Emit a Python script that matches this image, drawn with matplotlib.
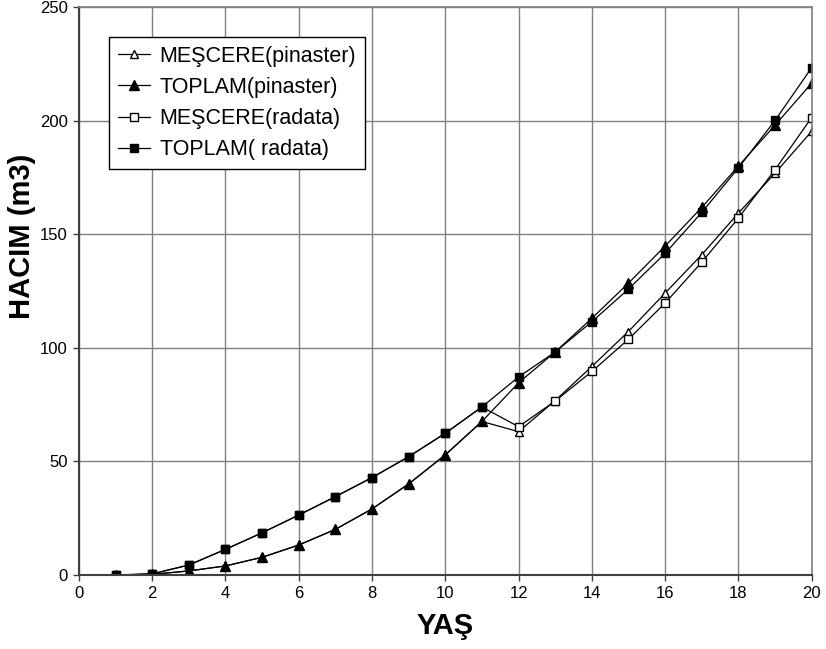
import matplotlib
matplotlib.use("Agg")
import matplotlib.pyplot as plt

plt.rcParams['font.family'] = ['Liberation Sans', 'DejaVu Sans']

ages = list(range(1, 21))
toplam_pinaster = [0, 0.3, 1.8, 4.0, 7.8, 13.2, 20.1, 29.1, 40.1, 52.9,
                   67.6, 84.6, 98.2, 113.0, 128.5, 144.8, 161.8, 180.0, 198.0, 216.5]
toplam_radiata = [0, 0.5, 4.4, 11.3, 18.6, 26.4, 34.5, 42.9, 52.1, 62.4,
                  74.0, 87.2, 98.2, 111.5, 125.9, 141.6, 159.6, 179.2, 200.1, 223.3]
mescere_pinaster = [0, 0.3, 1.8, 4.0, 7.8, 13.2, 20.1, 29.1, 40.1, 52.9,
                    67.6, 63.1, 76.8, 91.8, 107.2, 124.1, 141.0, 159.3, 176.9, 195.3]
mescere_radiata = [0, 0.5, 4.4, 11.3, 18.6, 26.4, 34.5, 42.9, 52.1, 62.4,
                   74.0, 65.3, 76.6, 89.6, 103.8, 119.7, 137.7, 157.1, 178.4, 201.4]
labels = ['MEŞCERE(pinaster)', 'TOPLAM(pinaster)', 'MEŞCERE(radata)', 'TOPLAM( radata)']

fig = plt.figure(figsize=(8.26, 6.49), dpi=100)
ax = fig.add_axes([0.0956, 0.114, 0.887, 0.875])

lw = 0.9
ax.plot(ages, mescere_pinaster, color='black', lw=lw, marker='^', ms=6,
        mfc='white', mec='black', mew=1, label=labels[0])
ax.plot(ages, toplam_pinaster, color='black', lw=lw, marker='^', ms=7,
        mfc='black', mec='black', label=labels[1])
ax.plot(ages, mescere_radiata, color='black', lw=lw, marker='s', ms=5.5,
        mfc='white', mec='black', mew=1, label=labels[2])
ax.plot(ages, toplam_radiata, color='black', lw=lw, marker='s', ms=6,
        mfc='black', mec='black', label=labels[3])

ax.set_xlim(0, 20)
ax.set_ylim(0, 250)
ax.set_xticks(range(0, 21, 2))
ax.set_yticks(range(0, 251, 50))
ax.grid(True, color='#808080', lw=1)
ax.set_axisbelow(True)
for s in ['top', 'right']:
    ax.spines[s].set_color('#808080')
    ax.spines[s].set_linewidth(1.2)
for s in ['left', 'bottom']:
    ax.spines[s].set_color('#404040')
    ax.spines[s].set_linewidth(1.5)
ax.tick_params(axis='both', direction='out', length=4, width=1, color='#404040',
               labelsize=12, pad=4)

ax.set_xlabel('YAŞ', fontsize=21, fontweight='bold', labelpad=8)
ax.set_ylabel('HACIM (m3)', fontsize=21, fontweight='bold')
ax.yaxis.set_label_coords(-0.058, 0.597)

leg = ax.legend(loc='upper left', bbox_to_anchor=(0.041, 0.947),
                prop={'size': 15.5},
                frameon=True, fancybox=False, edgecolor='black', framealpha=1,
                handlelength=1.5, borderpad=0.4, labelspacing=0.47,
                handletextpad=0.45, borderaxespad=0)
leg.get_frame().set_linewidth(1)

fig.savefig('out.png', dpi=100)
